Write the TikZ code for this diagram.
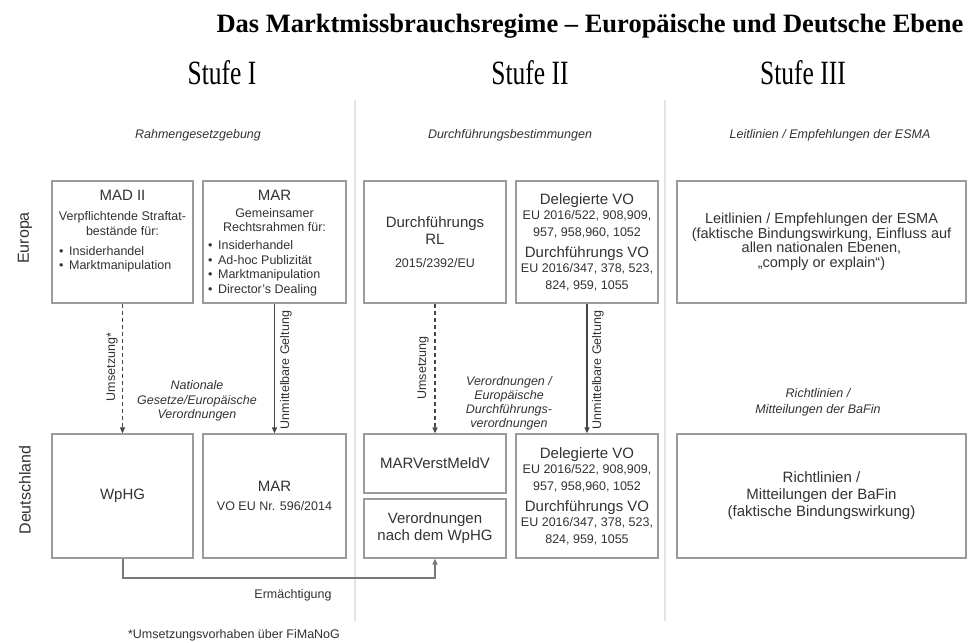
\documentclass[tikz,border=0pt]{standalone}
\usepackage{fontspec}
\setmainfont{Liberation Sans}
\newfontfamily\titlefont{Liberation Serif}
\newfontfamily\stufefont[FakeStretch=0.75]{Liberation Serif}
\usetikzlibrary{arrows.meta, positioning}
\definecolor{boxgray}{RGB}{155,155,155}
\definecolor{txtgray}{RGB}{50,50,50}
\definecolor{sepgray}{RGB}{228,228,228}
\definecolor{arrowgray}{RGB}{70,70,70}
\definecolor{linkgray}{RGB}{120,120,120}
\newcommand{\bigtxt}{\fontsize{15}{17}\selectfont}
\newcommand{\smalltxt}{\fontsize{12.5}{14.5}\selectfont}

\begin{document}
\begin{tikzpicture}[x=1pt, y=1pt,
  box/.style={draw=boxgray, line width=1.3pt, align=center, font=\bigtxt, text=txtgray, inner sep=2pt},
  note/.style={font=\smalltxt\itshape, align=center, text=txtgray, inner sep=0pt},
  plain/.style={font=\smalltxt, align=center, text=txtgray, inner sep=0pt},
  list/.style={font=\smalltxt, align=left, text=txtgray, inner sep=0pt, anchor=west},
  rowlabel/.style={font=\fontsize{16}{18}\selectfont, rotate=90, text=txtgray},
  stufe/.style={font=\stufefont\fontsize{34}{38}\selectfont},
  down/.style={draw=arrowgray, line width=1.2pt, -{Triangle[length=6pt,width=5pt]}},
  sep/.style={draw=sepgray, line width=1.6pt}
]
  \useasboundingbox (0,0) rectangle (968,642);

  \node[font=\titlefont\bfseries\fontsize{26.5}{30}\selectfont] (title) at (590,616) {Das Marktmissbrauchsregime – Europäische und Deutsche Ebene};
  \node[stufe] (stufe1) at (222,569) {Stufe I};
  \node[stufe] (stufe2) at (530,569) {Stufe II};
  \node[stufe] (stufe3) at (803,569) {Stufe III};

  \coordinate (sep1top) at (355,542);
  \coordinate (sep1bot) at (355,21);
  \coordinate (sep2top) at (665,542);
  \coordinate (sep2bot) at (665,21);
  \draw[sep] (sep1top) -- (sep1bot);
  \draw[sep] (sep2top) -- (sep2bot);

  \node[note] (hdr1) at (198,507) {Rahmengesetzgebung};
  \node[note] (hdr2) at (510,507) {Durchführungsbestimmungen};
  \node[note] (hdr3) at (830,507) {Leitlinien / Empfehlungen der ESMA};

  \node[rowlabel] (europa) at (25,404) {Europa};
  \node[rowlabel] (deutschland) at (25,152) {Deutschland};

  % Europa
  \node[box, minimum width=141pt, minimum height=122pt] (madii) at (122.5,400) {};
  \node[plain, font=\bigtxt] (madiititle) at (122.5,447) {MAD II};
  \node[plain] (madiisub) at (122.5,418.5) {Verpflichtende Straftat-\\bestände für:};
  \node[list] (madiilist) at (59,382.5) {•\, Insiderhandel\\•\, Marktmanipulation};

  \node[box, minimum width=143pt, minimum height=122pt] (mareu) at (274.5,400) {};
  \node[plain, font=\bigtxt] (mareutitle) at (274.5,447) {MAR};
  \node[plain] (mareusub) at (274.5,422) {Gemeinsamer\\Rechtsrahmen für:};
  \node[list] (mareulist) at (208,373.5) {•\, Insiderhandel\\•\, Ad-hoc Publizität\\•\, Marktmanipulation\\•\, Director's Dealing};

  \node[box, minimum width=142pt, minimum height=122pt] (rl) at (435,400) {Durchführungs\\RL\\[6.5pt]\smalltxt 2015/2392/EU};
  \node[box, minimum width=142pt, minimum height=122pt] (deleg) at (587,400) {Delegierte VO\\[-2pt]\smalltxt EU 2016/522, 908,909,\\\smalltxt 957, 958,960, 1052\\[4pt]Durchführungs VO\\[-2pt]\smalltxt EU 2016/347, 378, 523,\\\smalltxt 824, 959, 1055};
  \node[box, minimum width=289pt, minimum height=122pt, font=\fontsize{14.5}{14.5}\selectfont] (esma) at (821.5,400) {Leitlinien / Empfehlungen der ESMA\\(faktische Bindungswirkung, Einfluss auf\\allen nationalen Ebenen,\\„comply or explain“)};

  % Deutschland
  \node[box, minimum width=141pt, minimum height=124pt] (wphg) at (122.5,146) {WpHG};
  \node[box, minimum width=143pt, minimum height=124pt] (marde) at (274.5,146) {MAR\\[1.5pt]\smalltxt VO EU Nr. 596/2014};
  \node[box, minimum width=142pt, minimum height=59pt] (marverst) at (435,178.5) {MARVerstMeldV};
  \node[box, minimum width=142pt, minimum height=59pt] (verord) at (435,113.5) {Verordnungen\\nach dem WpHG};
  \node[box, minimum width=142pt, minimum height=124pt] (delegde) at (587,146) {Delegierte VO\\[-2pt]\smalltxt EU 2016/522, 908,909,\\\smalltxt 957, 958,960, 1052\\[4pt]Durchführungs VO\\[-2pt]\smalltxt EU 2016/347, 378, 523,\\\smalltxt 824, 959, 1055};
  \node[box, minimum width=289pt, minimum height=124pt] (bafin) at (821.5,146) {Richtlinien /\\Mitteilungen der BaFin\\(faktische Bindungswirkung)};

  \draw[down, dash pattern=on 4pt off 3pt] (madii.south) -- (wphg.north);
  \draw[down] (mareu.south) -- (marde.north);
  \draw[down, dash pattern=on 4pt off 3pt] (rl.south) -- (marverst.north);
  \draw[down] (deleg.south) -- (delegde.north);

  \node[plain, rotate=90] (umsetzung1) at (112,275) {Umsetzung*};
  \node[plain, rotate=90] (geltung1) at (286,272) {Unmittelbare Geltung};
  \node[plain, rotate=90] (umsetzung2) at (423,274) {Umsetzung};
  \node[plain, rotate=90] (geltung2) at (598,272) {Unmittelbare Geltung};

  \node[note] (natgesetze) at (197,241) {Nationale\\Gesetze/Europäische\\Verordnungen};
  \node[note, font=\fontsize{12.5}{14}\selectfont\itshape] (euvo) at (509,239) {Verordnungen /\\Europäische\\Durchführungs-\\verordnungen};
  \node[note, font=\fontsize{12.5}{16}\selectfont\itshape] (bafinhdr) at (818,240) {Richtlinien /\\Mitteilungen der BaFin};

  \coordinate (ermleft) at (122.5,64);
  \coordinate (ermright) at (435,64);
  \draw[draw=linkgray, line width=2pt, -{Triangle[length=6pt,width=5pt]}] (wphg.south) -- (ermleft) -- (ermright) -- (verord.south);
  \node[plain] (erm) at (293,47) {Ermächtigung};
  \node[plain] (footnote) at (234,7) {*Umsetzungsvorhaben über FiMaNoG};
\end{tikzpicture}
\end{document}
